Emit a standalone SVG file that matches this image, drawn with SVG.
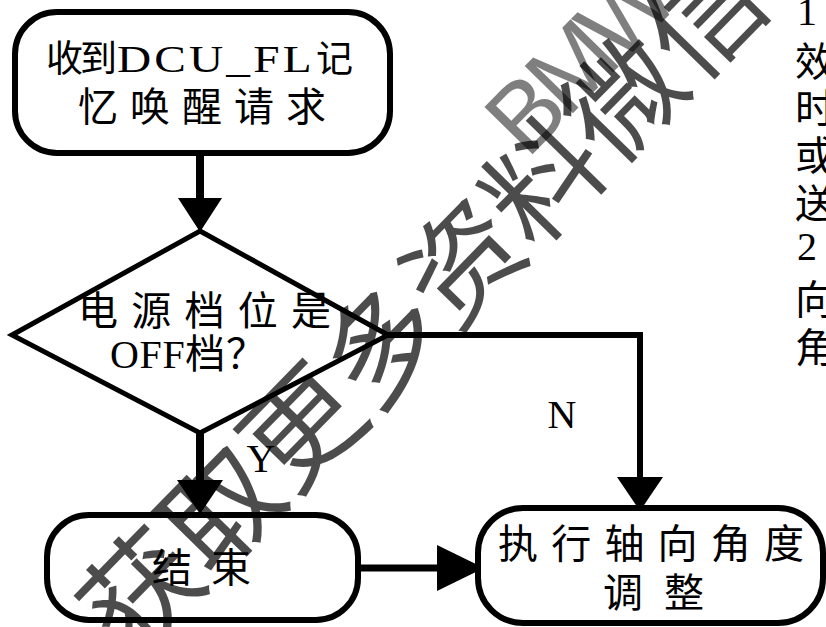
<svg xmlns="http://www.w3.org/2000/svg" width="826" height="627" viewBox="0 0 826 627">
<style>
.box{fill:#fff;stroke:#000;stroke-width:6}
.dia{fill:#fff;stroke:#000;stroke-width:5;stroke-linejoin:miter}
.t{font-family:"Liberation Serif","Noto Sans CJK SC",serif;font-size:40px;fill:#000}
.c{fill:none;stroke:#000;stroke-width:8}
.h{fill:#000;stroke:none}
.wm{font-family:"Noto Sans CJK SC","Noto Sans",sans-serif;font-size:115px;fill:#000;fill-opacity:0.7}
.wm2{font-family:"Liberation Sans",sans-serif;font-size:98px;letter-spacing:-8px;fill:#000;fill-opacity:0.5}
</style>
<rect width="826" height="627" fill="#fff"/>
<g id="connectors">
  <line class="c" x1="200" y1="153" x2="200" y2="199"/>
  <polygon class="h" points="178,198 222,198 200,232"/>
  <line class="c" x1="200" y1="433" x2="200" y2="481"/>
  <polygon class="h" points="177,480 223,480 200,514"/>
  <path class="c" style="stroke-width:6" d="M388,335 H640 V478"/>
  <polygon class="h" points="617,477 663,477 640,511"/>
  <line class="c" style="stroke-width:7" x1="357" y1="568" x2="438" y2="568"/>
  <polygon class="h" points="437,545 437,591 484,568"/>
  <text class="t" x="562" y="428" text-anchor="middle">N</text>
  <text class="t" x="261" y="472" text-anchor="middle">Y</text>
</g>
<g id="start">
  <rect class="box" x="15" y="12" width="375" height="141" rx="42"/>
  <text class="t" style="font-size:37px" y="72"><tspan x="46">收</tspan><tspan x="80">到</tspan><tspan x="316">记</tspan></text>
  <text class="t" style="font-size:37px" transform="translate(117,72) scale(1.28,1)" textLength="152" lengthAdjust="spacing">DCU_FL</text>
  <text class="t" x="78" y="121" textLength="248" lengthAdjust="spacing">忆唤醒请求</text>
</g>
<g id="decision">
  <polygon class="dia" points="200,231 388,335 200,433 12,335"/>
  <text class="t" x="78" y="325" textLength="253" lengthAdjust="spacing">电源档位是</text>
  <text class="t" x="110" y="368" textLength="156" lengthAdjust="spacing">OFF档？</text>
</g>
<g id="end">
  <rect class="box" x="47" y="515" width="311" height="105" rx="42"/>
  <text class="t" x="152" y="582" textLength="99" lengthAdjust="spacing">结束</text>
</g>
<g id="adjust">
  <rect class="box" x="478" y="508" width="345" height="115" rx="45"/>
  <text class="t" x="498" y="558" textLength="306" lengthAdjust="spacing">执行轴向角度</text>
  <text class="t" x="603" y="607" textLength="101" lengthAdjust="spacing">调整</text>
</g>
<g id="notes">
  <text class="t" x="797" y="25">1</text>
  <text class="t" x="795" y="76">效</text>
  <text class="t" x="795" y="123">时</text>
  <text class="t" x="795" y="170">或</text>
  <text class="t" x="795" y="218">送</text>
  <text class="t" x="797" y="260">2</text>
  <text class="t" x="795" y="314">向</text>
  <text class="t" x="795" y="362">角</text>
</g>
<g id="watermark">
  <text class="wm" transform="translate(131,662) rotate(-45.6)">获取更多资料微信</text>
  <text class="wm2" transform="translate(527,160) rotate(-45.6)">BMW</text>
</g>
</svg>
